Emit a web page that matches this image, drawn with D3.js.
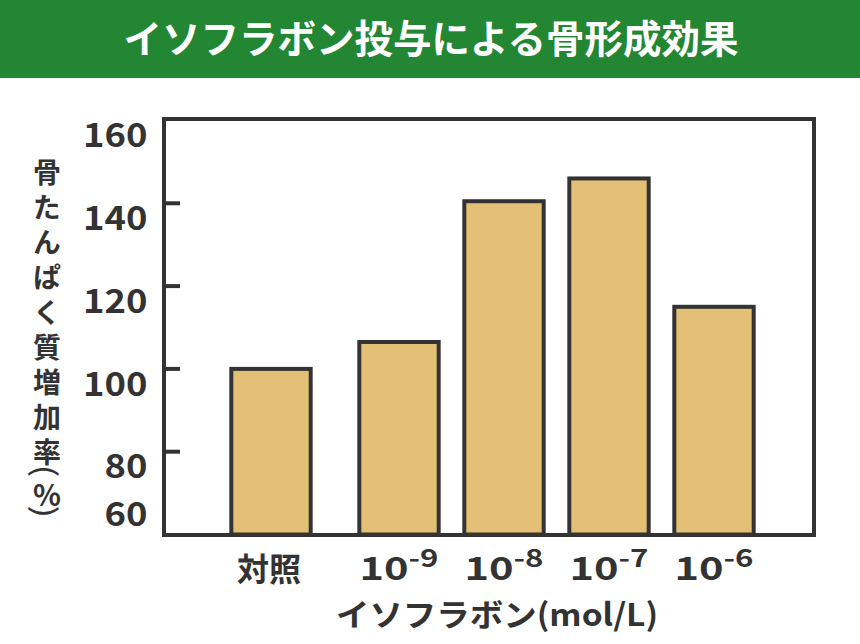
<!DOCTYPE html>
<html><head><meta charset="utf-8">
<script src="https://cdn.jsdelivr.net/npm/d3@7"></script>
<style>
html,body{margin:0;padding:0;background:#fff;}
text{font-family:"Noto Sans CJK JP","Noto Sans",sans-serif;}
</style></head>
<body>
<svg id="chart" width="860" height="644"></svg>
<script>
const title = "イソフラボン投与による骨形成効果";
const categories = ["対照", "10-9", "10-8", "10-7", "10-6"];
const tickBase = [null, "10", "10", "10", "10"];
const tickExp = [null, "-9", "-8", "-7", "-6"];
const values = [100, 106.5, 140.5, 146, 115];
const yTicks = [60, 80, 100, 120, 140, 160];
const yTitleMain = "骨たんぱく質増加率";
const yTitleUnit = ["(", "%", ")"];
const xTitle = "イソフラボン(mol/L)";

const svg = d3.select("#chart");
const ink = "#333333";
const W = 860, H = 644;
const frame = {l:164, r:814, t:119, b:535};

// title bar
svg.append("rect").attr("x",0).attr("y",0).attr("width",W).attr("height",78).attr("fill","#238632");
svg.append("text").attr("x",W/2 + 1).attr("y",53).attr("text-anchor","middle")
  .attr("fill","#fff").attr("font-size",38.5).attr("font-weight","bold").text(title);

const y = d3.scaleLinear().domain([60,160]).range([534.5,120.5]);
const groupGap = 23;
const x = d3.scaleBand().domain(categories).range([218.5, 743.5]).paddingInner(0.244).paddingOuter(0.122);
const xPos = (d,i) => x(d) + (i>0 ? groupGap : 0);

// bars
svg.append("g").selectAll("rect").data(values).join("rect")
  .attr("x",(v,i)=>xPos(categories[i],i))
  .attr("width",x.bandwidth())
  .attr("y",v=>y(v))
  .attr("height",v=>y(60)-y(v))
  .attr("fill","#e4c076").attr("stroke",ink).attr("stroke-width",4);

// frame
svg.append("rect").attr("x",frame.l).attr("y",frame.t).attr("width",frame.r-frame.l).attr("height",frame.b-frame.t)
  .attr("fill","none").attr("stroke",ink).attr("stroke-width",4);

// y ticks (inner marks)
svg.append("g").selectAll("line").data(yTicks.filter(t=>t>60 && t<160)).join("line")
  .attr("x1",frame.l).attr("x2",frame.l+16).attr("y1",t=>y(t)).attr("y2",t=>y(t))
  .attr("stroke",ink).attr("stroke-width",4);

// y tick labels
const labY = t => Math.min(y(t)+15, 514);
svg.append("g").selectAll("text").data(yTicks).join("text")
  .attr("x",0).attr("y",0).attr("dy","0.36em")
  .attr("text-anchor","end").attr("fill",ink).attr("font-size",32.5).attr("font-weight","bold")
  .attr("transform",t=>`translate(147.5,${labY(t)}) scale(1.12,1)`)
  .text(t=>t);

// x tick labels
const xl = svg.append("g");
categories.forEach((c,i)=>{
  const cx = xPos(c,i) + x.bandwidth()/2;
  if (tickBase[i]===null) {
    xl.append("text").attr("x",cx - 2).attr("y",581).attr("text-anchor","middle")
      .attr("fill",ink).attr("font-size",32).attr("font-weight","bold").text(c);
  } else {
    const t = xl.append("text").attr("x",0).attr("y",0).attr("text-anchor","middle")
      .attr("transform",`translate(${cx},580) scale(1.3,1)`)
      .attr("fill",ink).attr("font-size",32).attr("font-weight","bold");
    t.append("tspan").text(tickBase[i]);
    t.append("tspan").attr("dy",-13).attr("font-size",24).text(tickExp[i]);
  }
});

// x title
svg.append("text").attr("x",0).attr("y",0).attr("text-anchor","middle")
  .attr("transform","translate(497,626) scale(1.08,1)")
  .attr("fill",ink).attr("font-size",31).attr("font-weight","bold").text(xTitle);

// y title (vertical)
svg.append("text").attr("x",47).attr("y",158)
  .attr("fill",ink).attr("font-size",28).attr("font-weight","bold")
  .style("writing-mode","vertical-rl").attr("letter-spacing",7)
  .text(yTitleMain);
// unit: rotated parentheses around upright %
const unitY = [471, 493, 512];
yTitleUnit.forEach((u,i)=>{
  const g = svg.append("text").attr("fill",ink)
    .attr("text-anchor","middle").attr("dominant-baseline","central");
  if (i===1) {
    g.attr("x",47).attr("y",unitY[i]).attr("font-size",29).attr("font-weight","bold").text(u);
  } else {
    g.attr("transform",`translate(47,${unitY[i]}) rotate(90) scale(1,0.8)`)
      .attr("font-size",38).attr("font-weight","normal").text(u);
  }
});
</script>
</body></html>
